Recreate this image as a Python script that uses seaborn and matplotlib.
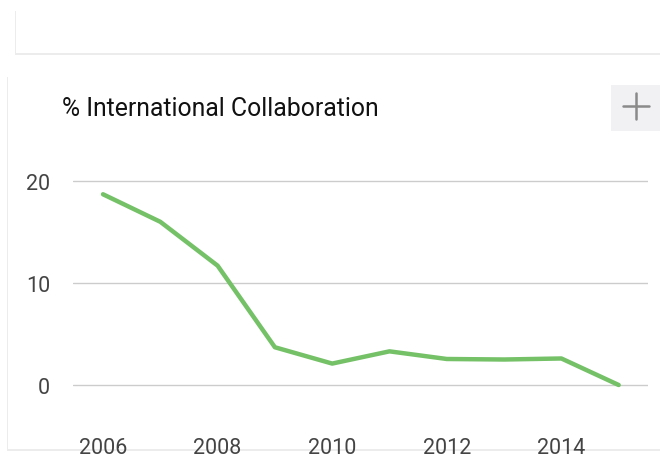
import matplotlib

matplotlib.use("Agg")

import matplotlib.pyplot as plt
import pandas as pd
import seaborn as sns
from matplotlib.lines import Line2D
from matplotlib.patches import Rectangle

YEARS = [2006, 2007, 2008, 2009, 2010, 2011, 2012, 2013, 2014, 2015]
COLLAB_PCT = [18.7, 16.0, 11.7, 3.7, 2.1, 3.3, 2.55, 2.5, 2.6, 0.0]
Y_TICKS = [0, 10, 20]
X_TICKS = [2006, 2008, 2010, 2012, 2014]

W, H = 660, 477
LINE_COLOR = "#74c167"
GRID_COLOR = "#cccccc"
TICK_COLOR = "#444444"


def px_box(x0, y0, x1, y1):
    # pixel box (top-left origin) -> figure fraction [left, bottom, width, height]
    return [x0 / W, 1 - y1 / H, (x1 - x0) / W, (y1 - y0) / H]


def add_card(fig, x0, y0, x1, y1):
    l, b, w, h = px_box(x0, y0, x1, y1)
    shadow = Rectangle((l - 1.5 / W, b - 2 / H), w + 3 / W, h + 2 / H, transform=fig.transFigure,
                       facecolor="#ececec", edgecolor="none", zorder=0)
    card = Rectangle((l, b), w, h, transform=fig.transFigure, facecolor="white", edgecolor="none", zorder=0.5)
    fig.patches.extend([shadow, card])


def main():
    sns.set_theme(style="white")
    plt.rcParams["font.family"] = ["Roboto", "DejaVu Sans"]

    df = pd.DataFrame({"year": YEARS, "pct": COLLAB_PCT})

    fig = plt.figure(figsize=(W / 100, H / 100), dpi=100)
    fig.patch.set_facecolor("white")

    add_card(fig, 16, 12, 672, 54)
    add_card(fig, 8, 78, 672, 450)

    # "+" button in the card corner
    bl, bb, bw, bh = px_box(611, 86, 672, 132)
    fig.patches.append(Rectangle((bl, bb), bw, bh, transform=fig.transFigure,
                                 facecolor="#f1f1f4", edgecolor="none", zorder=1))
    cx, cy, arm = 636, 107, 13
    for xs, ys in [((cx - arm, cx + arm), (cy, cy)), ((cx, cx), (cy - arm, cy + arm))]:
        fig.add_artist(Line2D([x / W for x in xs], [1 - y / H for y in ys], transform=fig.transFigure,
                              color="#8a8a8a", linewidth=1.8, zorder=2))

    fig.text(62 / W, 1 - 109 / H, "% International Collaboration", ha="left", va="center",
             fontsize=17.8, color="#111111", zorder=2)

    # axes: gridlines span x 73..648, y=0 at px 386, 10.2 px per unit
    x_left, x_right = 73, 648
    px_per_year = 57.3
    x0_year = 2006 - (103 - x_left) / px_per_year
    x1_year = 2006 + (x_right - 103) / px_per_year
    top_px, bot_px = 160, 425
    ax = fig.add_axes(px_box(x_left, top_px, x_right, bot_px))
    ax.set_facecolor("none")
    ax.set_zorder(3)

    sns.lineplot(data=df, x="year", y="pct", ax=ax, color=LINE_COLOR, linewidth=3.2)

    ax.set_xlim(x0_year, x1_year)
    ax.set_ylim((386 - bot_px) / 10.2, (386 - top_px) / 10.2)
    ax.set_yticks(Y_TICKS)
    ax.set_xticks(X_TICKS)
    ax.set_xticklabels([str(x) for x in X_TICKS])
    ax.yaxis.grid(True, color=GRID_COLOR, linewidth=1)
    ax.xaxis.grid(False)
    for s in ax.spines.values():
        s.set_visible(False)
    ax.tick_params(axis="both", length=0, labelsize=15.5, labelcolor=TICK_COLOR)
    ax.tick_params(axis="y", pad=16.5)
    ax.tick_params(axis="x", pad=9.5)
    ax.set_xlabel("")
    ax.set_ylabel("")

    fig.savefig("out.png", dpi=100)


if __name__ == "__main__":
    main()
